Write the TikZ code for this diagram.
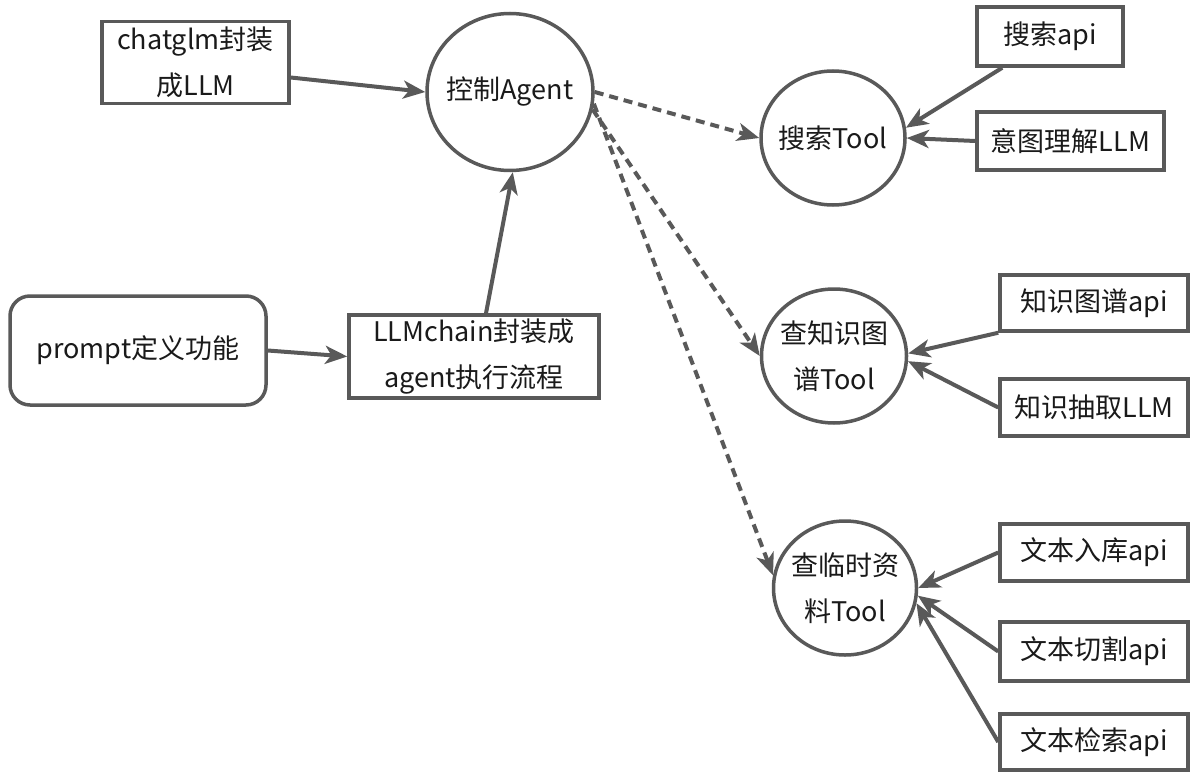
\documentclass[tikz,border=0pt]{standalone}
\usepackage{fontspec}
\setmainfont{Noto Sans CJK SC}
\usetikzlibrary{arrows.meta,shapes.geometric,calc}
\definecolor{ln}{HTML}{595959}
\definecolor{tx}{HTML}{1A1A1A}
\begin{document}
\begin{tikzpicture}[x=1pt,y=-1pt,
  lbl/.style={text=tx, font=\fontsize{27}{46}\selectfont, align=center},
  box/.style={lbl, draw=ln, line width=3.5pt, rectangle, inner sep=0pt},
  rbox/.style={box, rounded corners=20pt},
  tool/.style={lbl, draw=ln, line width=3.5pt, ellipse, inner sep=-20pt},
  conn/.style={draw=ln, line width=4pt, -{Stealth[length=22pt,width=18pt,inset=6pt]}},
  dconn/.style={conn, dash pattern=on 9pt off 6pt}
]
\useasboundingbox (0,0) rectangle (1201,778);
\fill[white] (0,0) rectangle (1201,778);

% left part
\node[box, minimum width=187pt, minimum height=82pt] (glm) at (195.5,62.5) {chatglm封装\\成LLM};
\node[tool, minimum width=166pt, minimum height=157pt] (agent) at (510,92) {控制Agent};
\node[rbox, minimum width=256pt, minimum height=109pt] (prompt) at (138,350.5) {prompt定义功能};
\node[box, minimum width=250pt, minimum height=83pt] (chain) at (474,356.5) {LLMchain封装成\\agent执行流程};

% tools
\node[tool, minimum width=144pt, minimum height=134pt] (tool1) at (833,138) {搜索Tool};
\node[tool, minimum width=145pt, minimum height=134pt] (kg) at (834,356) {查知识图\\谱Tool};
\node[tool, minimum width=143pt, minimum height=134pt] (tmp) at (845,588) {查临时资\\料Tool};

% right boxes
\node[box, minimum width=146pt, minimum height=59pt] (sapi) at (1050,36.5) {搜索api};
\node[box, minimum width=187pt, minimum height=58pt] (sllm) at (1070.5,141) {意图理解LLM};
\node[box, minimum width=188pt, minimum height=56pt] (kgapi) at (1094,303) {知识图谱api};
\node[box, minimum width=188pt, minimum height=57pt] (kgllm) at (1094,407.5) {知识抽取LLM};
\node[box, minimum width=188pt, minimum height=57pt] (t1) at (1094,552.5) {文本入库api};
\node[box, minimum width=188pt, minimum height=59pt] (t2) at (1094,651.5) {文本切割api};
\node[box, minimum width=188pt, minimum height=56pt] (t3) at (1094,742) {文本检索api};

% connectors
\draw[conn] ($(glm.east)+(0,15)$) -- (agent.west);
\draw[conn] ($(chain.north)+(12,0)$) -- (agent.-88);
\draw[conn] (prompt.east) -- (chain.west);

\draw[dconn] (agent.east) -- (tool1.west);
\draw[dconn] (agent.-12) -- (kg.west);
\draw[dconn] (agent.-8) -- (tmp.170);

\draw[conn] ($(sapi.south west)+(27,0)$) -- (tool1.8);
\draw[conn] (sllm.west) -- (tool1.0);
\draw[conn] (kgapi.south west) -- (kg.2);
\draw[conn] (kgllm.west) -- (kg.-4);
\draw[conn] (t1.west) -- (tmp.0);
\draw[conn] (t2.west) -- (tmp.-6);
\draw[conn] (t3.west) -- (tmp.-12);
\end{tikzpicture}
\end{document}
